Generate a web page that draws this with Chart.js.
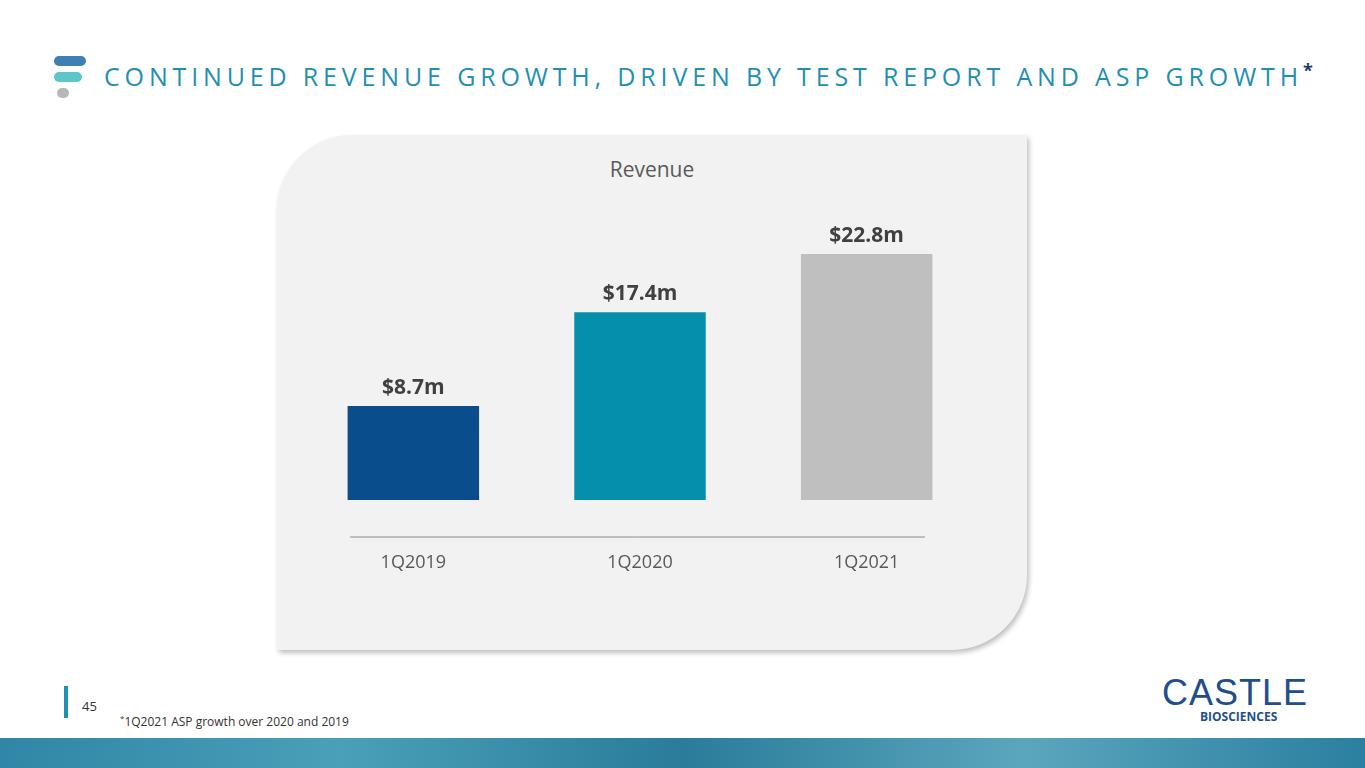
<!DOCTYPE html>
<html><head><meta charset="utf-8">
<script src="https://cdn.jsdelivr.net/npm/chart.js@4"></script>
<style>
body{margin:0;width:1365px;height:768px;position:relative;overflow:hidden;background:#fff;font-family:"Open Sans",sans-serif}
#title{position:absolute;left:104px;top:58px;font-size:25px;letter-spacing:4.85px;color:#1f8fb3;white-space:nowrap}
#title sup{font-size:18px;color:#1a3c6e;font-weight:bold;letter-spacing:0}
.ic{position:absolute;border-radius:6px}
#panel{position:absolute;left:277px;top:135px;width:750px;height:515px;background:#f2f2f2;border-radius:75px 0 75px 0;box-shadow:2px 3px 5px rgba(0,0,0,0.25)}
#ptitle{position:absolute;left:277px;width:750px;top:155px;text-align:center;font-size:21px;color:#595959}
#wrap{position:absolute;left:300px;top:200px;width:680px;height:380px}
#foot{position:absolute;left:120px;top:712px;font-size:12px;color:#333}
#pg{position:absolute;left:82px;top:697px;font-size:13px;color:#333}
#strip{position:absolute;left:0;top:738px;width:1365px;height:30px;background:linear-gradient(90deg,#2f86a6,#4aa0b8,#2a7c9a,#5aa6bd,#2b7fa0)}
#logo{position:absolute;left:1162px;top:672px;font-size:36px;color:#1e4f8c;letter-spacing:1px;font-family:"Liberation Sans",sans-serif}
#logo2{position:absolute;left:1200px;top:708px;font-size:12px;color:#1e4f8c;font-weight:bold}
</style></head><body>
<div class="ic" style="left:54px;top:56px;width:32px;height:10px;background:#3f7fb3"></div>
<div class="ic" style="left:54px;top:72px;width:28px;height:10px;background:#5cc6c9"></div>
<div class="ic" style="left:57px;top:88px;width:12px;height:10px;background:#b8b8b8"></div>
<div id="title">CONTINUED REVENUE GROWTH, DRIVEN BY TEST REPORT AND ASP GROWTH<sup>*</sup></div>
<div id="panel"></div>
<div id="ptitle">Revenue</div>
<div id="wrap"><canvas id="c"></canvas></div>
<div style="position:absolute;left:64px;top:686px;width:4px;height:32px;background:#1f8fb3"></div>
<div id="pg">45</div>
<div id="foot"><sup style="font-size:8px">*</sup>1Q2021 ASP growth over 2020 and 2019</div>
<div id="logo">CASTLE</div>
<div id="logo2">BIOSCIENCES</div>
<div id="strip"></div>
<script>
const categories = ['1Q2019', '1Q2020', '1Q2021'];
const revenue = [8.7, 17.4, 22.8];
const valueLabels = ['$8.7m', '$17.4m', '$22.8m'];
const barColors = ['#0a4d8c', '#068fad', '#bfbfbf'];

const labelPlugin = {
  id: 'labels',
  afterDatasetsDraw(chart) {
    const ctx = chart.ctx;
    const meta = chart.getDatasetMeta(0);
    const area = chart.chartArea;
    ctx.save();
    ctx.textAlign = 'center';
    // value labels
    ctx.font = 'bold 21px "Open Sans"';
    ctx.fillStyle = '#404040';
    meta.data.forEach((bar, i) => {
      ctx.fillText(valueLabels[i], bar.x, bar.y - 12);
    });
    // axis line
    ctx.strokeStyle = '#8c8c8c';
    ctx.lineWidth = 1;
    ctx.beginPath();
    ctx.moveTo(area.left + 50, area.bottom + 37);
    ctx.lineTo(area.right - 55, area.bottom + 37);
    ctx.stroke();
    // category labels
    ctx.font = '18px "Open Sans"';
    ctx.fillStyle = '#595959';
    meta.data.forEach((bar, i) => {
      ctx.fillText(categories[i], bar.x, area.bottom + 68);
    });
    ctx.restore();
  }
};

new Chart(document.getElementById('c'), {
  type: 'bar',
  data: {
    labels: categories,
    datasets: [{ data: revenue, backgroundColor: barColors, barPercentage: 0.58, categoryPercentage: 1 }]
  },
  options: {
    responsive: true,
    maintainAspectRatio: false,
    animation: false,
    layout: { padding: { bottom: 80 } },
    plugins: { legend: { display: false }, tooltip: { enabled: false } },
    scales: {
      x: { display: false },
      y: { display: false, min: 0, max: 27.8 }
    }
  },
  plugins: [labelPlugin]
});
</script>
</body></html>
